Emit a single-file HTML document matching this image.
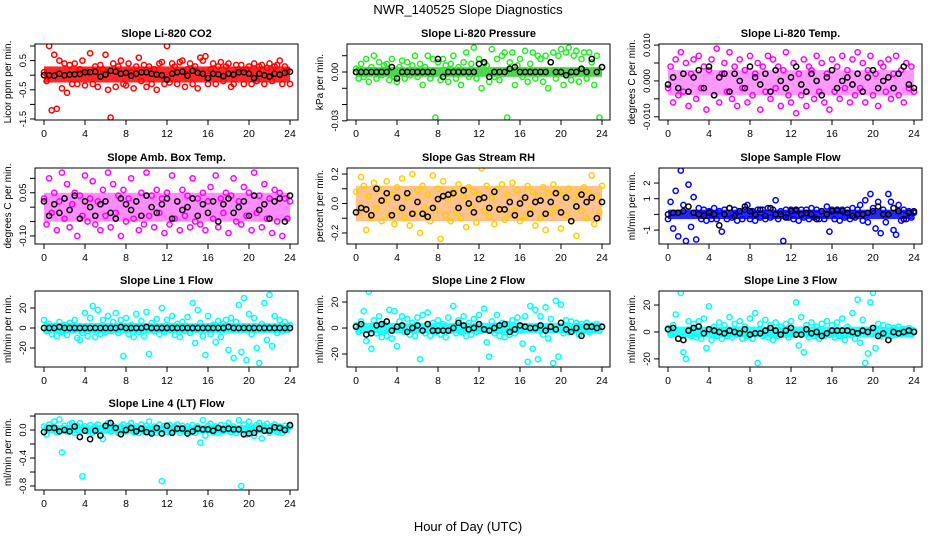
<!DOCTYPE html>
<html><head><meta charset="utf-8"><style>
body{margin:0;background:#fff;}
svg{display:block;font-family:"Liberation Sans",sans-serif;}
</style></head><body>
<svg id="chart" width="936" height="540" viewBox="0 0 936 540" xmlns="http://www.w3.org/2000/svg">
<rect width="936" height="540" fill="#fff"/>
<text x="468" y="14" text-anchor="middle" font-size="13">NWR_140525  Slope Diagnostics</text>
<text x="468" y="531" text-anchor="middle" font-size="13">Hour of Day (UTC)</text>
</svg>
<script>
// ---- data arrays ----
const xTicks = [0,4,8,12,16,20,24];
const titles = ["Slope Li-820 CO2","Slope Li-820 Pressure","Slope Li-820 Temp.","Slope Amb. Box Temp.","Slope Gas Stream RH","Slope Sample Flow","Slope Line 1 Flow","Slope Line 2 Flow","Slope Line 3 Flow","Slope Line 4 (LT) Flow"];
const yLabels = ["Licor ppm per min.","kPa per min.","degrees C per min.","degrees C per min.","percent per min.","ml/min per min.","ml/min per min.","ml/min per min.","ml/min per min.","ml/min per min."];
const yLims = [[-1.534,1.068],[-0.0295,0.0172],[-0.0109,0.0103],[-0.128,0.136],[-0.275,0.241],[-1.89,2.96],[-39,37],[-30,28.5],[-26,30.4],[-0.857,0.229]];
const yTicks = [[-1.5,-1,-0.5,0,0.5,1],[-0.03,-0.02,-0.01,0,0.01],[-0.01,-0.005,0,0.005,0.01],[-0.1,-0.05,0,0.05,0.1],[-0.2,-0.1,0,0.1,0.2],[-1,0,1,2],[-20,0,20],[-20,0,20],[-20,0,20],[-0.8,-0.6,-0.4,-0.2,0,0.2]];
const yTickLabels = [["-1.5","","-0.5","","0.5",""],["-0.03","","","0.00",""],["-0.010","","0.000","","0.010"],["-0.10","","","0.05",""],["-0.2","","0.0","","0.2"],["-1","","1","2"],["-20","0","20"],["-20","0","20"],["-20","0","20"],["-0.8","","-0.4","","0.0",""]];
const bandLo = [-0.25,-0.003,-0.004,-0.05,-0.12,-0.3,-5,-4,-4,-0.05];
const bandHi = [0.3,0.003,0.003,0.05,0.12,0.3,5,4,4,0.07];
const colors = ["#ff0000","#22ee22","#ff00ff","#ff00ff","#ffcc00","#0000ff","#00ffff","#00ffff","#00ffff","#00ffff"];
const bandColors = ["#ff0000","#22cc22","#ff00ff","#ff00ff","#ff7700","#0000ff","#00ffff","#00ffff","#00ffff","#00ffff"];
const bandOpacity = [0.85,0.8,0.4,0.45,0.45,0.85,0.85,0.85,0.85,0.85];

const co2 = [0.1,-0.2,1.0,-1.2,0.7,-1.15,0.5,-0.45,0.4,-0.6,0.35,-0.3,0.4,-0.3,0.2,0.5,-0.35,0.1,0.75,-0.3,0.3,-0.4,0.35,0.2,0.7,-0.5,-1.45,0.4,-0.4,0.3,0.5,-0.3,-0.35,0.4,0.1,-0.45,0.3,0.6,-0.2,0.35,-0.4,0.3,-0.3,0.2,-0.5,0.4,0.45,-0.3,1.0,-0.25,0.4,0.3,-0.3,0.45,0.5,-0.4,0.2,0.4,-0.3,0.3,-0.45,0.6,0.5,0.65,-0.3,0.2,0.4,-0.3,0.3,0.45,-0.2,0.3,0.4,-0.4,-0.3,0.35,0.2,0.35,-0.3,0.2,0.3,-0.3,0.4,-0.2,0.3,0.35,-0.3,0.25,0.4,-0.2,0.3,0.35,0.5,-0.3,0.3,0.15,-0.3];
const co2Black = [0,0,-0.02,0.05,0,0.02,0.03,0.04,0.1,0.1,0.12,-0.05,0.02,0.15,0.12,0.05,0.08,-0.02,0.05,0.1,0.1,0.05,0.02,0,-0.15,0.05,0.1,0.12,-0.02,0.15,0.08,0.05,-0.1,0.05,0.03,-0.03,0.05,0.02,0.1,0.1,0.05,-0.1,0.05,0,-0.05,0.05,0.02,0.08,0.12];
const pres = [0.002,-0.004,0.005,-0.003,0.008,-0.006,0.003,0.01,-0.004,0.006,-0.002,0.004,0.005,-0.005,0.008,-0.003,-0.006,0.003,0.007,-0.004,0.006,-0.002,0.004,0.01,-0.003,0.005,-0.008,0.003,0.01,-0.004,0.008,-0.028,0.006,-0.005,0.008,0.004,-0.006,0.005,0.01,-0.004,0.003,-0.008,0.006,0.012,-0.003,0.005,0.015,-0.004,0.008,-0.01,0.005,0.004,-0.006,0.014,-0.003,0.008,-0.005,0.01,0.012,-0.028,0.006,0.012,-0.008,0.004,0.008,-0.003,0.013,-0.006,0.005,0.012,-0.004,0.01,0.008,-0.006,0.01,-0.01,0.006,0.012,-0.004,0.01,0.014,-0.008,0.012,0.015,-0.005,0.01,0.013,-0.006,0.008,0.012,-0.004,0.012,0.006,-0.008,0.01,-0.028,0.003];
const presBlack = [0,0,0,0,0,0,0,0.003,-0.004,0,0,0,0,0,0,0,0.008,-0.003,0,0,0,0,0,0,0.005,0.006,-0.003,0,0,0,0.002,0.003,0,0,0,0,0,0,0.006,0,0,-0.002,0,0,0.002,0,0.008,0,0.003];
const temp = [-0.002,0.004,-0.006,0.006,-0.004,0.008,-0.003,0.005,-0.007,0.002,0.006,-0.005,0.007,-0.002,0.004,-0.008,0.003,0.006,-0.004,0.009,-0.006,0.002,0.005,-0.003,0.008,-0.005,0.004,-0.007,0.006,-0.002,0.003,-0.006,0.007,-0.004,0.002,0.005,-0.008,0.004,-0.003,0.007,-0.005,0.006,-0.002,0.004,-0.007,0.003,0.008,-0.004,-0.006,0.005,-0.009,0.002,-0.004,0.006,-0.007,0.004,0.003,-0.005,0.007,-0.003,0.005,-0.006,0.002,-0.008,0.006,-0.003,0.004,-0.005,0.007,-0.002,0.003,-0.006,0.006,-0.004,0.008,-0.002,0.005,-0.006,0.003,0.007,-0.004,0.002,-0.007,0.005,0.004,-0.003,0.006,-0.005,0.002,0.007,-0.004,0.003,-0.006,0.005,-0.002,0.004,-0.003];
const tempBlack = [-0.001,0.001,-0.002,0.002,-0.003,0.001,0.003,-0.002,0.004,-0.004,0.001,0.002,-0.003,0.002,0,-0.002,0.004,0.001,-0.001,0.002,-0.003,0.003,0,-0.002,0.001,0.004,-0.001,-0.003,0.002,0,-0.004,0.001,0.003,-0.002,0,0.001,-0.001,0.002,-0.003,0.001,0.003,-0.002,0,0.001,-0.002,0.002,0.004,-0.001,-0.002];
const amb = [0.03,-0.06,0.1,-0.02,0.05,-0.08,0.02,0.12,-0.04,0.08,-0.07,0.01,0.05,-0.1,0.04,-0.03,0.11,-0.05,0.03,0.09,-0.06,0.02,-0.08,0.06,-0.03,0.12,-0.07,0.08,-0.02,0.04,-0.1,0.06,-0.05,0.03,0.1,-0.04,0.02,-0.08,0.05,-0.06,0.12,-0.03,0.04,-0.07,0.06,-0.02,0.03,-0.09,0.05,-0.06,0.11,-0.04,0.02,-0.08,0.06,-0.03,0.04,-0.07,0.1,-0.05,0.03,-0.06,0.05,-0.08,0.02,0.07,-0.04,0.11,-0.07,0.03,-0.02,0.05,-0.09,0.04,0.1,-0.05,0.02,-0.06,0.07,-0.03,0.05,-0.08,0.12,-0.02,0.04,-0.07,0.08,-0.04,0.03,-0.09,0.06,-0.05,0.05,-0.1,0.03,-0.04,0.02];
const ambBlack = [0.02,-0.03,0.01,-0.02,0.03,-0.01,0.04,-0.04,0.02,0,-0.03,0.01,0.02,-0.02,-0.04,0.03,0.01,-0.01,0.02,-0.03,0.04,0,-0.02,0.01,0.03,-0.04,0.02,-0.01,0,0.03,-0.03,0.01,-0.02,0.02,-0.05,0.01,0.03,-0.02,0,0.02,-0.03,0.04,-0.01,0.01,-0.04,0.02,0.03,-0.05,0.04];
const rh = [0.08,-0.06,0.18,0.12,-0.18,0.05,-0.1,0.14,-0.03,0.1,-0.12,0.02,0.15,-0.08,0.06,-0.14,0.11,-0.05,0.17,-0.1,0.04,-0.15,0.2,-0.07,0.09,-0.2,0.12,-0.03,0.06,-0.12,0.19,-0.05,0.1,-0.24,0.15,-0.08,0.03,-0.12,0.09,-0.06,0.13,-0.1,0.05,-0.16,0.11,-0.02,0.08,-0.13,0.06,0.24,-0.05,0.12,-0.09,0.04,-0.14,0.1,-0.03,0.13,-0.11,0.06,-0.07,0.14,-0.05,0.09,-0.12,0.03,-0.09,0.12,-0.04,0.08,-0.15,0.05,-0.1,0.11,-0.18,0.07,-0.06,0.13,-0.03,0.09,-0.17,0.06,-0.08,0.1,-0.12,0.04,-0.22,0.08,-0.05,0.11,-0.1,0.07,0.19,-0.14,0.05,-0.06,0.12];
const rhBlack = [-0.06,-0.03,-0.04,-0.08,0.1,0.02,0.07,-0.08,0.04,-0.03,0.07,-0.07,0.01,-0.07,-0.09,-0.03,0.03,0.05,0.06,0.07,-0.03,0.09,0.0,-0.06,0.03,0.04,-0.03,0.08,-0.04,-0.04,0.01,-0.08,0.0,0.04,-0.07,0.01,0.02,-0.07,0.01,0.07,-0.06,0.04,-0.12,-0.02,0.06,0.01,0.04,-0.1,0.01];
const flow = [-0.3,0.8,-0.9,1.5,-1.4,2.8,0.6,-1.7,1.9,-0.8,1.1,-1.6,0.4,-0.3,0.3,-0.4,0.2,-0.3,0.4,-0.3,0.2,-1.1,0.3,-0.3,0.4,-0.2,0.3,-0.4,0.2,-0.3,0.3,0.6,-0.3,0.2,-0.4,0.3,-0.2,0.3,-0.3,0.4,-0.2,0.3,0.9,-0.3,0.2,-1.7,0.3,-0.2,0.3,-0.3,0.2,-0.4,0.3,-0.2,0.3,-0.3,0.4,-0.2,0.3,-0.3,0.2,-0.3,0.5,-1.1,0.3,-0.3,0.2,-0.4,0.3,-0.2,0.3,-0.3,0.4,-0.2,0.3,0.6,-0.4,0.9,-0.5,1.3,0.4,-0.9,0.8,-1.2,0.3,-0.5,1.3,0.8,-1.0,-1.3,0.6,-0.4,0.3,-0.3,0.2,-0.2,0.1];
const flowBlack = [0,0.1,0.1,0.2,0.5,0.1,0,-0.1,0.1,0,-0.7,0,0.4,-0.1,0.2,0.5,0.2,0,0.3,-0.1,0.4,0,0,-0.2,0.2,0.3,0,0.1,0,-0.3,0.2,0,0.2,0.3,0.2,0.1,-0.1,0,0,0.1,0.2,0.5,0,0,0.4,0.2,-0.3,0.1,0.2];
const line1 = [8,-3,4,-6,2,-8,6,-4,3,-7,5,-2,8,-10,-12,-5,15,-8,10,22,-9,18,-6,8,-4,12,-3,6,15,-5,8,-28,10,-6,3,-9,14,-4,7,-8,16,-26,5,-3,9,-6,20,-4,8,-2,12,-7,4,-9,6,-3,11,-5,25,-15,18,5,-8,-27,12,-6,3,-14,7,-9,4,8,-22,10,-30,6,23,-24,30,-32,14,-6,10,-20,-35,4,25,-12,33,-18,12,-5,8,-3,6,-2,3];
const line1Black = [0,0,0,1,0,0,0,0,0,0,0,0,0,0,0,1,0,0,0,0,1,0,0,0,0,0,0,0,0,0,0,0,0,0,0,0,1,0,0,0,0,0,0,0,0,0,0,0,0];
const line2 = [2,-3,5,13,-10,28,-16,6,-4,9,-7,3,-6,14,-8,13,-14,5,9,-3,7,-5,4,-6,8,-24,10,-4,12,-6,4,-3,6,-5,3,-7,8,-2,17,-4,6,-3,9,-6,4,-5,7,-3,10,-2,15,-11,-22,5,-4,10,-6,4,-7,3,-5,6,-4,8,-2,-12,9,-26,17,-16,14,-24,9,-5,16,-8,7,-27,21,-22,18,-4,6,-3,5,-2,4,-5,3,-2,4,-3,2,-1,3,-2,1];
const line2Black = [1,3,-5,-4,2,3,5,-2,1,2,-3,0,2,-2,3,-2,-2,-2,-2,0,4,2,-1,0,3,-1,-2,0,2,3,-3,-1,2,1,0,0,2,-2,1,-1,4,-1,-3,0,-6,1,1,0,1];
const line3 = [3,-2,5,13,-5,29,-15,-20,8,-3,6,-4,8,-5,10,-12,19,-6,4,-3,7,-5,5,-3,11,-4,6,-2,8,-5,4,-3,10,-5,14,-23,6,-3,9,-4,5,-6,7,-3,4,-2,6,-4,8,-2,22,-10,11,-15,5,-4,7,-3,4,-5,6,-3,8,-2,5,-4,7,-3,10,-6,4,-2,14,-5,24,-8,9,-23,-16,22,29,-12,6,-3,5,-2,4,-3,3,-2,4,-1,2,-1,3,-2,1];
const line3Black = [2,3,-5,-6,1,3,4,-1,2,1,0,-1,1,0,-1,2,-2,-1,-1,1,3,1,-2,1,3,-2,-2,2,-1,0,-3,-1,1,1,1,1,0,-1,1,0,3,-3,-1,-6,0,-1,0,1,0];
const line4 = [0.05,-0.06,0.08,0.03,0.12,-0.03,0.15,-0.32,0.06,-0.02,0.08,0.1,-0.04,0.06,0.1,-0.66,0.05,-0.02,0.07,-0.04,0.05,0.08,-0.06,-0.13,0.04,0.1,-0.02,0.06,0.03,-0.04,0.05,0.08,-0.02,0.06,0.1,-0.03,0.05,-0.04,0.08,-0.02,0.06,0.12,-0.03,0.05,-0.04,0.08,-0.73,0.06,-0.03,0.07,-0.02,0.05,0.08,-0.04,0.06,-0.02,0.05,-0.03,0.07,-0.04,0.05,-0.18,0.14,-0.08,0.06,0.09,-0.03,0.05,-0.04,0.07,-0.02,0.06,0.1,-0.03,0.05,-0.04,0.14,-0.8,0.08,-0.06,0.12,0.05,-0.08,0.07,0.1,-0.12,0.06,0.09,-0.04,0.05,0.08,-0.03,0.05,-0.04,0.06,0.03,0.05];
const line4Black = [-0.03,0.03,0.03,-0.02,0,-0.02,0.05,-0.1,-0.01,-0.13,-0.01,-0.08,0.06,0.1,0.03,-0.06,0,0.03,-0.02,0.02,-0.03,-0.05,0.03,-0.05,0.06,-0.04,0.02,0.02,-0.05,-0.02,0.02,0.01,0.01,-0.01,0.03,0.01,0.02,0.01,0.01,-0.06,-0.05,-0.04,0.02,-0.01,-0.01,0.04,0.03,0,0.07];

const series = [co2,pres,temp,amb,rh,flow,line1,line2,line3,line4];
const blacks = [co2Black,presBlack,tempBlack,ambBlack,rhBlack,flowBlack,line1Black,line2Black,line3Black,line4Black];

// ---- layout ----
const svg = document.getElementById('chart');
const NS = 'http://www.w3.org/2000/svg';
const colLeft = [35,347,659], rowTop = [44,168,291,414], W = 263, H = 76;
function mk(tag, attrs, parent){ const e=document.createElementNS(NS,tag); for(const k in attrs) e.setAttribute(k,attrs[k]); (parent||svg).appendChild(e); return e; }

for (let p=0; p<series.length; p++){
  const L = colLeft[p%3], T = rowTop[Math.floor(p/3)];
  const g = mk('g',{});
  
  
  const [lo,hi] = yLims[p];
  const xs = v => L + 9 + v/24*246;
  const ys = v => T + H - (v-lo)/(hi-lo)*H;
  const cp = mk('clipPath',{id:'c'+p}, g); mk('rect',{x:L,y:T,width:W,height:H},cp);
  const plot = mk('g',{'clip-path':'url(#c'+p+')'}, g);
  const band = mk('rect',{x:xs(0),y:ys(bandHi[p]),width:xs(24)-xs(0),height:ys(bandLo[p])-ys(bandHi[p]),fill:bandColors[p],opacity:bandOpacity[p]}, plot);
  
  
  const d = series[p];
  d.forEach((v,i)=>{
    const c = mk('circle',{cx:xs(i*24/(d.length-1)),cy:ys(v),r:2.6,fill:'none',stroke:colors[p],'stroke-width':1.5}, plot);
    
    
  });
  const b = blacks[p];
  b.forEach((v,i)=>{
    const c = mk('circle',{cx:xs(i*24/(b.length-1)),cy:ys(v),r:2.6,fill:'none',stroke:'#000','stroke-width':1.5}, plot);
    
    
  });
  mk('rect',{x:L,y:T,width:W,height:H,fill:'none',stroke:'#000','stroke-width':1}, g);
  const t = mk('text',{x:L+W/2,y:T-7,'text-anchor':'middle','font-size':11,'font-weight':'bold'}, g);
  t.textContent = titles[p];
  
  
  mk('line',{x1:xs(0),x2:xs(24),y1:T+H,y2:T+H,stroke:'#000'}, g);
  xTicks.forEach(v=>{
    mk('line',{x1:xs(v),x2:xs(v),y1:T+H,y2:T+H+5,stroke:'#000'}, g);
    const tx = mk('text',{x:xs(v),y:T+H+17,'text-anchor':'middle','font-size':10.5}, g);
    tx.textContent = v;
    
    
  });
  const yt = yTicks[p];
  mk('line',{x1:L,x2:L,y1:ys(yt[0]),y2:ys(yt[yt.length-1]),stroke:'#000'}, g);
  yt.forEach((v,i)=>{
    mk('line',{x1:L-5,x2:L,y1:ys(v),y2:ys(v),stroke:'#000'}, g);
    const lab = yTickLabels[p][i];
    if(lab){
      const ty = mk('text',{x:L-9,y:ys(v),'text-anchor':'middle','font-size':9.5,transform:'rotate(-90 '+(L-9)+' '+ys(v)+')'}, g);
      ty.textContent = lab;
      
      
    }
  });
  const yl = mk('text',{x:L-24,y:T+H/2,'text-anchor':'middle','font-size':10,transform:'rotate(-90 '+(L-24)+' '+(T+H/2)+')'}, g);
  yl.textContent = yLabels[p];
  
  
}
</script>
</body></html>
